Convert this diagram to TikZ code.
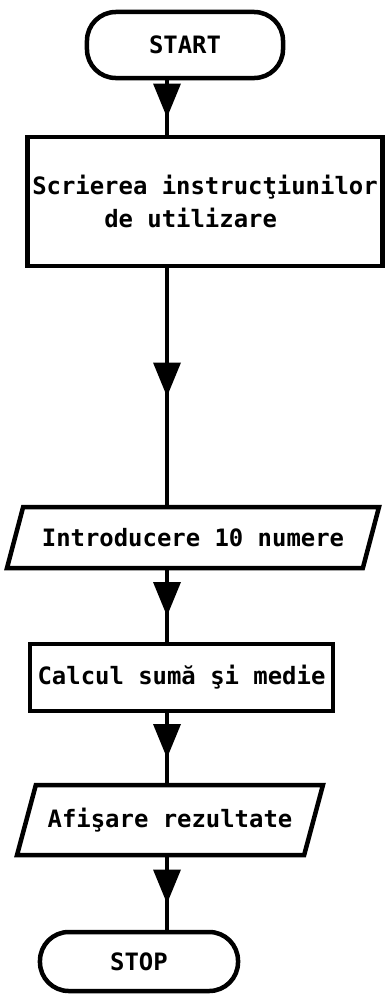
\documentclass[tikz,border=0pt]{standalone}
\usepackage{fontspec}
\setmonofont{DejaVu Sans Mono}
\usetikzlibrary{shapes.geometric,decorations.markings}

\begin{document}
\begin{tikzpicture}[x=0.025cm, y=-0.025cm,
  every node/.style={font=\fontsize{17}{23.5}\selectfont\ttfamily\bfseries},
  terminal/.style={draw, line width=3.2pt, rounded corners=0.72cm},
  process/.style={draw, line width=3.2pt, rectangle},
  io/.style={draw, line width=3.2pt, trapezium, trapezium left angle=62, trapezium right angle=118, trapezium stretches=true},
  flow/.style={line width=3.2pt, postaction={decorate}, decoration={markings, mark=at position 0.5 with {\fill (10,0) -- (-24,14) -- (-24,-14) -- cycle;}}}]
\useasboundingbox (0,0) rectangle (386,995);

\coordinate (spine) at (167,0);

\node[terminal, minimum width=4.9cm, minimum height=1.65cm] (start) at (185,45) {START};
\node[process, minimum width=8.75cm, minimum height=3.225cm, align=left] (instr) at (205,201.5) {Scrierea instrucţiunilor\\~~~~~de utilizare};
\node[io, minimum width=9.3cm, minimum height=1.525cm] (input) at (193,537.5) {Introducere 10 numere};
\node[process, minimum width=7.575cm, minimum height=1.675cm] (calc) at (181.5,677.5) {Calcul sumă şi medie};
\node[io, minimum width=7.65cm, minimum height=1.75cm] (output) at (170,820) {Afişare rezultate};
\node[terminal, minimum width=4.95cm, minimum height=1.475cm] (stop) at (139,961.5) {STOP};

\draw[flow] (start.south -| spine) -- (instr.north -| spine);
\draw[flow] (instr.south -| spine) -- (input.north -| spine);
\draw[flow] (input.south -| spine) -- (calc.north -| spine);
\draw[flow] (calc.south -| spine) -- (output.north -| spine);
\draw[flow] (output.south -| spine) -- (stop.north -| spine);
\end{tikzpicture}
\end{document}
